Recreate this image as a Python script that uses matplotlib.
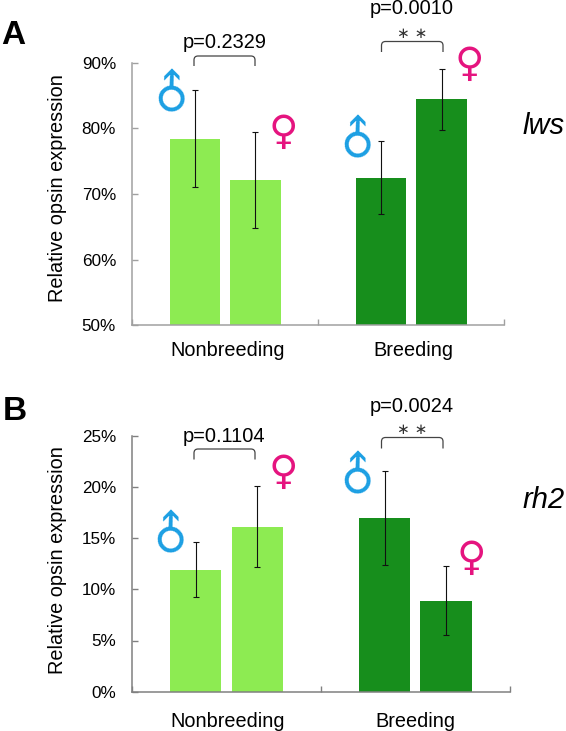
import matplotlib
matplotlib.use("Agg")
import matplotlib.pyplot as plt
from matplotlib.patches import PathPatch
from matplotlib.path import Path
from matplotlib.transforms import Affine2D

plt.rcParams['font.family'] = ['Liberation Sans', 'DejaVu Sans']

W, H = 566, 731
categories = ["Nonbreeding", "Breeding"]
a_values = [78.4, 72.1, 72.4, 84.4]
a_err_low = [71.0, 64.8, 66.9, 79.8]
a_err_high = [85.8, 79.4, 78.0, 89.1]
b_values = [11.9, 16.1, 17.0, 8.9]
b_err_low = [9.2, 12.2, 12.4, 5.5]
b_err_high = [14.6, 20.1, 21.6, 12.3]
a_ticks = [50, 60, 70, 80, 90]
b_ticks = [0, 5, 10, 15, 20, 25]
bar_colors = ["#8DEB52", "#8DEB52", "#178E1C", "#178E1C"]
positions = [0.338, 0.663, 1.338, 1.663]
BAR_W = 0.271
MALE, FEMALE = "#1B9FE3", "#E5147F"

fig = plt.figure(figsize=(W / 100, H / 100), dpi=100)
px = Affine2D().scale(1 / W, -1 / H).translate(0, 1) + fig.transFigure


def panel(box, ylim, ticks, vals, lo, hi, spine, cat_pos, cat_pad, ylabel_frac):
    l, t, r, b = box
    ax = fig.add_axes([l / W, 1 - b / H, (r - l) / W, (b - t) / H])
    ax.bar(positions, [v - ylim[0] for v in vals], BAR_W, bottom=ylim[0],
           color=bar_colors, linewidth=0, zorder=2)
    ax.errorbar(positions, vals,
                yerr=[[v - x for v, x in zip(vals, lo)], [x - v for v, x in zip(vals, hi)]],
                fmt="none", ecolor="#111111", elinewidth=0.8, capsize=2, capthick=0.8, zorder=3)
    ax.set_xlim(0, 2)
    ax.set_ylim(*ylim)
    ax.set_yticks(ticks)
    ax.set_yticklabels([f"{v}%" for v in ticks])
    ax.set_xticks([0, 1, 2])
    ax.set_xticklabels([])
    ax.set_xticks(cat_pos, minor=True)
    ax.set_xticklabels(categories, minor=True, fontsize=14.3)
    ax.tick_params(axis="y", direction="in", length=4, width=1, color=spine, labelsize=12.3, pad=11.5)
    ax.tick_params(axis="x", which="major", direction="in", length=4, width=1, color=spine)
    ax.tick_params(axis="x", which="minor", length=0, pad=cat_pad)
    for s in ("top", "right"):
        ax.spines[s].set_visible(False)
    for s in ("left", "bottom"):
        ax.spines[s].set_color(spine)
        ax.spines[s].set_linewidth(1.1)
    ax.set_ylabel("Relative opsin expression", fontsize=14.3)
    ax.yaxis.set_label_coords((67 - l) / (r - l), ylabel_frac)
    ax.patch.set_alpha(0)
    return ax


panel((132, 62.7, 504.3, 325.3), (50, 90), a_ticks, a_values, a_err_low, a_err_high, "#A0A0A0",
      [0.512, 1.51], 11.3, 0.524)
panel((132, 435.7, 509.7, 691.7), (0, 25), b_ticks, b_values, b_err_low, b_err_high, "#808080",
      [0.506, 1.5], 14.5, 0.515)


def bracket(x0, x1, top, bot):
    r = 4
    verts = [(x0, bot), (x0, top + r), (x0, top), (x0 + r, top), (x1 - r, top),
             (x1, top), (x1, top + r), (x1, bot)]
    codes = [Path.MOVETO, Path.LINETO, Path.CURVE3, Path.CURVE3, Path.LINETO,
             Path.CURVE3, Path.CURVE3, Path.LINETO]
    fig.add_artist(PathPatch(Path(verts, codes), fill=False, edgecolor="#444444",
                             linewidth=0.9, transform=px))


def label(x, y, s, **kw):
    fig.text(x, y, s, transform=px, ha="center", va="center", **kw)


def male(x, y):
    label(x, y, "\u2642", family="DejaVu Sans", fontsize=33, color=MALE, rotation=45,
          rotation_mode="anchor")


def female(x, y):
    label(x, y, "\u2640", family="DejaVu Sans", fontsize=29, color=FEMALE)


bracket(194, 255, 56, 66)
bracket(381.5, 443, 41.5, 52)
bracket(194, 255, 449, 459.5)
bracket(381.5, 443, 437.5, 448.5)

label(224.5, 43, "p=0.2329", fontsize=14.4)
label(412, 9, "p=0.0010", fontsize=14.4)
label(224.5, 436, "p=0.1104", fontsize=14.4)
label(412, 407, "p=0.0024", fontsize=14.4)
label(412, 33, "\u2217 \u2217", family="DejaVu Sans", fontsize=11, color="#333333")
label(412, 429, "\u2217 \u2217", family="DejaVu Sans", fontsize=11, color="#333333")

label(13, 36, "A", fontsize=24, fontweight="bold")
label(15, 412, "B", fontsize=24, fontweight="bold")
label(544, 126, "lws", fontsize=21, style="italic")
label(544, 500, "rh2", fontsize=21, style="italic")

male(173, 93)
female(283, 133)
male(359.7, 139)
female(469, 65)
male(172, 534)
female(283, 473)
male(359, 475)
female(471.7, 559)

fig.savefig("out.png", dpi=100)
